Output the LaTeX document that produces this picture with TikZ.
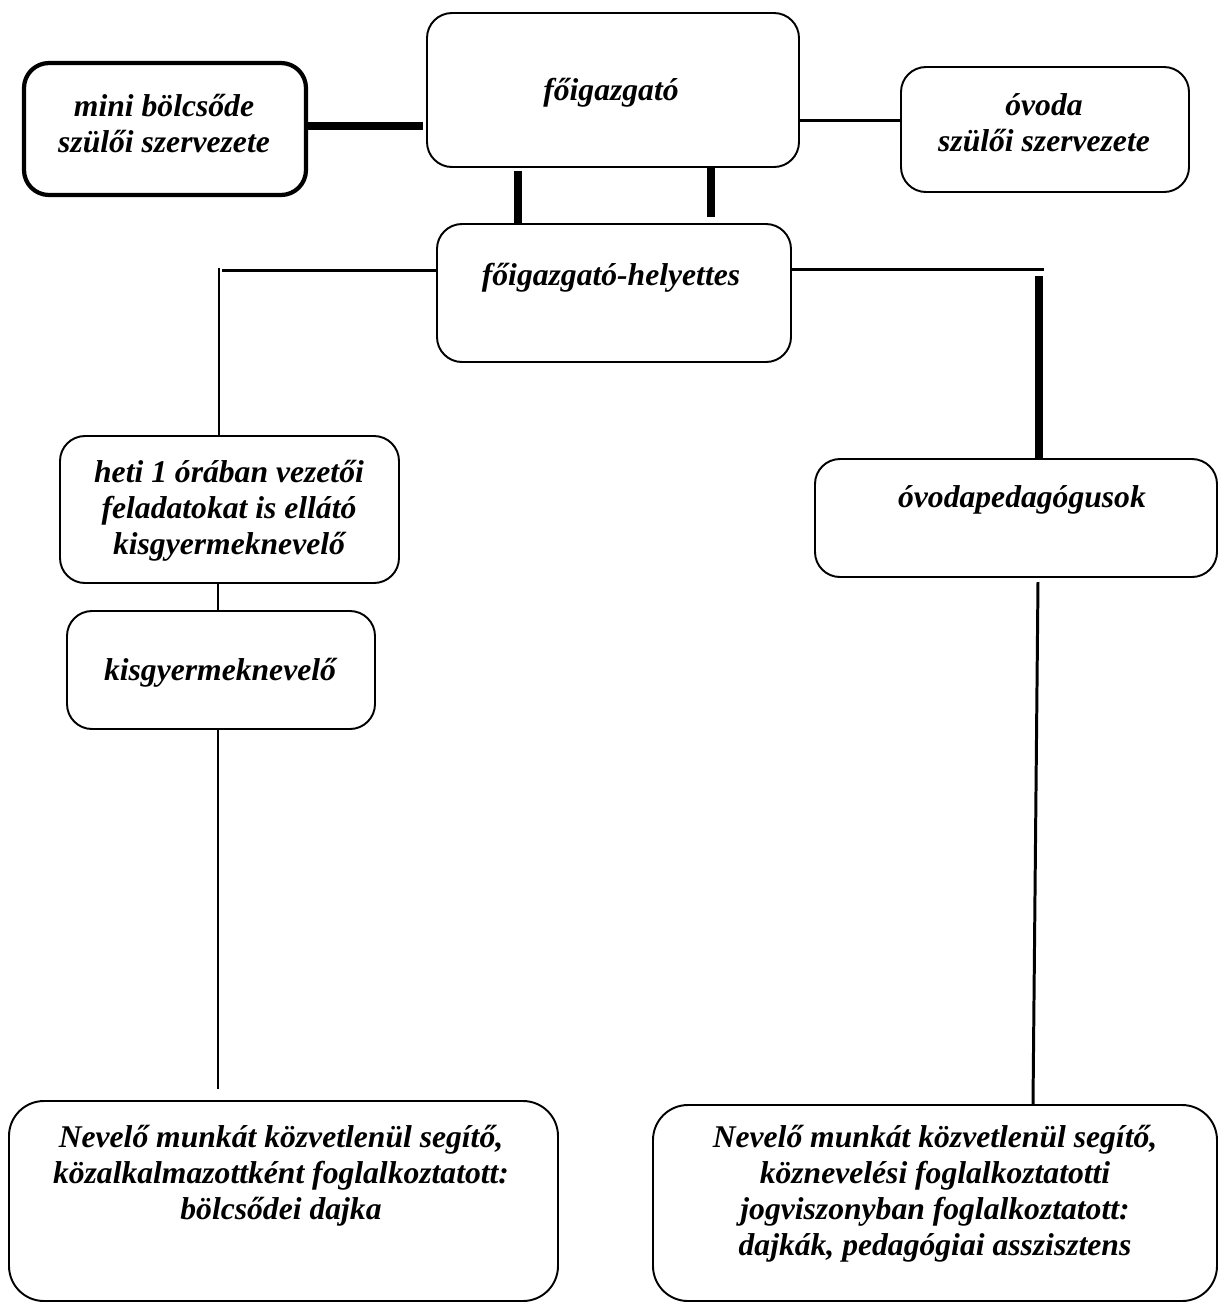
\documentclass[tikz,border=0pt]{standalone}
\usepackage{fontspec}
\setmainfont{Liberation Serif}
\usetikzlibrary{fit,calc}
\begin{document}
\begin{tikzpicture}[x=0.02cm,y=-0.02cm,
  box/.style={draw, rounded corners=0.5cm, line width=1.1pt, inner sep=0pt},
  bigbox/.style={box, rounded corners=0.7cm},
  heavybox/.style={box, line width=2.4pt},
  txt/.style={font=\fontsize{18}{20.5}\selectfont\bfseries\itshape, align=center, inner sep=0pt},
  conn/.style={line width=1.7pt},
  thk/.style={line width=4.5pt}]
\useasboundingbox (0,0) rectangle (1219,1303);

% boxes
\node[heavybox, fit={(24,63) (306,195)}] (mini) {};
\node[box, fit={(427,13) (799,167)}] (fo) {};
\node[box, fit={(901,67) (1189,192)}] (ovsz) {};
\node[box, fit={(437,224) (791,362)}] (hely) {};
\node[box, fit={(60,436) (399,583)}] (heti) {};
\node[box, fit={(67,611) (375,729)}] (kisgy) {};
\node[box, fit={(815,459) (1217,577)}] (ovped) {};
\node[bigbox, fit={(9,1101) (558,1301)}] (bl) {};
\node[bigbox, fit={(653,1105) (1217,1301)}] (br) {};

% texts
\node[txt] (tmini) at (164,124) {mini bölcsőde\\szülői szervezete};
\node[txt] (tfo) at (611,93) {főigazgató};
\node[txt] (tovsz) at (1044,123) {óvoda\\szülői szervezete};
\node[txt] (thely) at (611,278) {főigazgató-helyettes};
\node[txt] (theti) at (229,511) {heti 1 órában vezetői\\feladatokat is ellátó\\kisgyermeknevelő};
\node[txt] (tkisgy) at (220,673) {kisgyermeknevelő};
\node[txt] (tovped) at (1022,500) {óvodapedagógusok};
\node[txt] (tbl) at (281,1176) {Nevelő munkát közvetlenül segítő,\\közalkalmazottként foglalkoztatott:\\bölcsődei dajka};
\node[txt] (tbr) at (935,1194) {Nevelő munkát közvetlenül segítő,\\köznevelési foglalkoztatotti\\jogviszonyban foglalkoztatott:\\dajkák, pedagógiai asszisztens};

% free ends
\coordinate (lh) at (222,270);
\coordinate (lv) at (219,268);
\coordinate (rh) at (1044,269);
\coordinate (rv) at (1039,276);
\coordinate (kb) at (218,1089);
\coordinate (ob) at (1038,582);

% connectors
\draw[thk, shorten >=1.7pt] (mini.east |- 0,126) -- (fo.west |- 0,126);
\draw[conn] (fo.east |- 0,120) -- (ovsz.west |- 0,120);
\draw[thk, shorten <=1.7pt] (fo.south -| 518,0) -- (hely.north -| 518,0);
\draw[thk, shorten >=3.4pt] ([yshift=1.1pt]fo.south -| 711,0) -- (hely.north -| 711,0);
\draw[conn] (hely.west |- lh) -- (lh);
\draw[conn] (lv) -- (heti.north -| lv);
\draw[conn] (hely.east |- rh) -- (rh);
\draw[thk] (rv) -- (ovped.north -| rv);
\draw[conn] (heti.south -| 218,0) -- (kisgy.north -| 218,0);
\draw[conn] (kisgy.south -| kb) -- (kb);
\draw[conn] (ob) -- (br.north -| 1033,0);
\end{tikzpicture}
\end{document}
